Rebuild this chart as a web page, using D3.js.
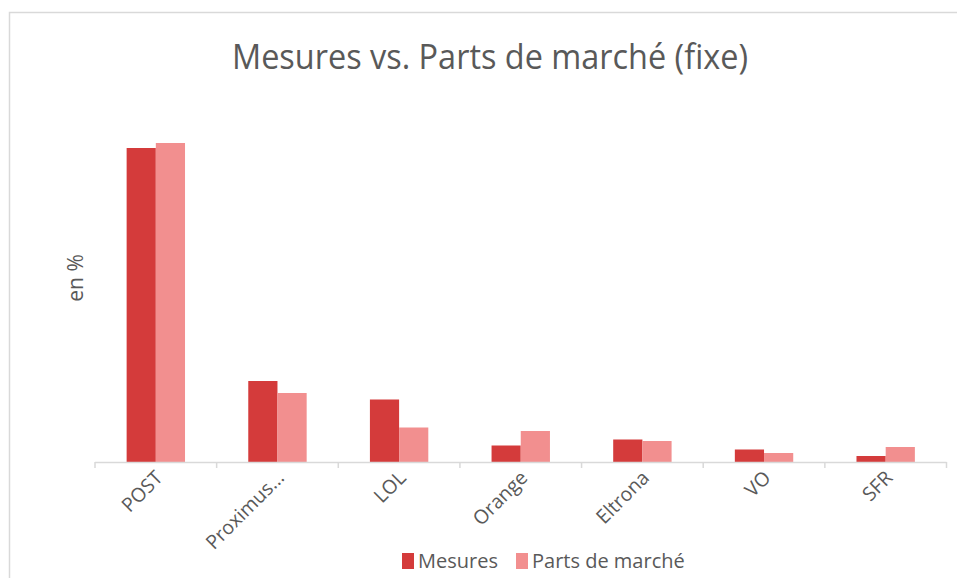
<!DOCTYPE html>
<meta charset="utf-8">
<style>
  body { margin: 0; background: #fff; }
  text { font-family: "Open Sans", "Liberation Sans", sans-serif; fill: #595959; }
</style>
<body>
<script src="https://d3js.org/d3.v7.min.js"></script>
<script>
  // données (en %)
  const categories = ["POST", "Proximus...", "LOL", "Orange", "Eltrona", "VO", "SFR"];
  const mesures = [62.8, 16.2, 12.5, 3.3, 4.5, 2.5, 1.2];
  const partsMarche = [63.8, 13.8, 6.9, 6.2, 4.2, 1.8, 3.0];
  const seriesNames = ["Mesures", "Parts de marché"];
  const colors = ["#d43b3b", "#f28f8f"];

  const width = 957, height = 578;
  const svg = d3.select("body").append("svg")
    .attr("width", width).attr("height", height);

  // cadre du graphique
  svg.append("rect")
    .attr("x", 9.5).attr("y", 12.5)
    .attr("width", 960).attr("height", 600)
    .attr("fill", "none").attr("stroke", "#d9d9d9").attr("stroke-width", 1.5);

  const x0 = d3.scaleBand().domain(categories).range([95, 946.5]).paddingInner(0.52).paddingOuter(0.26);
  const x1 = d3.scaleBand().domain(seriesNames).range([0, x0.bandwidth()]);
  const y = d3.scaleLinear().domain([0, 70]).range([462, 112]);

  const rows = categories.map((c, i) => ({ cat: c, vals: [mesures[i], partsMarche[i]] }));

  svg.append("g").selectAll("g")
    .data(rows)
    .join("g")
    .attr("transform", d => `translate(${x0(d.cat)},0)`)
    .selectAll("rect")
    .data(d => d.vals.map((v, j) => ({ s: seriesNames[j], v: v, c: colors[j] })))
    .join("rect")
    .attr("x", d => x1(d.s))
    .attr("y", d => y(d.v))
    .attr("width", x1.bandwidth())
    .attr("height", d => y(0) - y(d.v))
    .attr("fill", d => d.c);

  // axe des catégories
  const bounds = d3.range(categories.length + 1).map(i => 95 + i * (946.5 - 95) / categories.length);
  const ax = svg.append("g");
  ax.append("line")
    .attr("x1", 95).attr("x2", 946.5).attr("y1", 462.5).attr("y2", 462.5)
    .attr("stroke", "#d9d9d9").attr("stroke-width", 1.5);
  ax.selectAll(".tick")
    .data(bounds)
    .join("line")
    .attr("x1", d => d).attr("x2", d => d)
    .attr("y1", 462).attr("y2", 468)
    .attr("stroke", "#d9d9d9").attr("stroke-width", 1.5);

  ax.selectAll(".lab")
    .data(categories)
    .join("text")
    .attr("text-anchor", "end")
    .attr("font-size", 19.5)
    .attr("transform", d => `translate(${x0(d) + x0.bandwidth() / 2 + 8},${479}) rotate(-45)`)
    .text(d => d);

  // titre
  svg.append("text")
    .attr("x", 490).attr("y", 69)
    .attr("text-anchor", "middle")
    .attr("font-size", 35)
    .attr("textLength", 516)
    .attr("lengthAdjust", "spacingAndGlyphs")
    .text("Mesures vs. Parts de marché (fixe)");

  // titre de l'axe vertical
  svg.append("text")
    .attr("transform", "translate(83,278) rotate(-90)")
    .attr("text-anchor", "middle")
    .attr("font-size", 21)
    .text("en %");

  // légende
  const legX = [402, 516];
  const leg = svg.append("g").selectAll("g")
    .data(seriesNames)
    .join("g")
    .attr("transform", (d, i) => `translate(${legX[i]},553)`);
  leg.append("rect").attr("width", 12).attr("height", 16).attr("y", 0).attr("fill", (d, i) => colors[i]);
  leg.append("text").attr("x", 16).attr("y", 15).attr("font-size", 20).text(d => d);
</script>
</body>
